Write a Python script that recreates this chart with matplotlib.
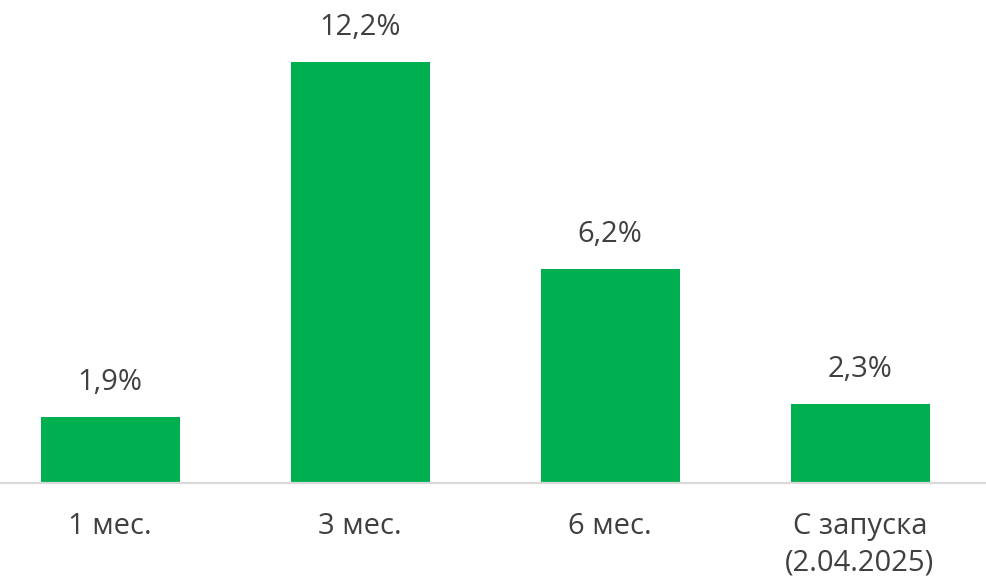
import matplotlib
matplotlib.use('Agg')
import matplotlib.pyplot as plt

categories = ['1 мес.', '3 мес.', '6 мес.', 'С запуска\n(2.04.2025)']
values = [1.9, 12.2, 6.2, 2.3]
value_labels = ['1,9%', '12,2%', '6,2%', '2,3%']

bar_color = '#00AF50'
text_color = '#404040'

plt.rcParams['font.family'] = ['Open Sans', 'DejaVu Sans']

fig = plt.figure(figsize=(9.86, 5.77), dpi=100)
ax = fig.add_axes([0, 1 - 483 / 577, 1, 483 / 577])

x = list(range(len(categories)))
ax.bar(x, values, width=0.556, color=bar_color, zorder=2)

for xi, v, lab in zip(x, values, value_labels):
    ax.annotate(lab, (xi, v), xytext=(0, 19.5), textcoords='offset points',
                ha='center', va='baseline', fontsize=21, color=text_color)

ax.set_xlim(-0.44, 3.504)
ax.set_ylim(0, 14.0)
ax.axhline(0, color='#D9D9D9', linewidth=1.6, zorder=3, clip_on=False)

for s in ax.spines.values():
    s.set_visible(False)
ax.set_yticks([])
ax.set_xticks(x)
ax.set_xticklabels(categories, fontsize=21, color=text_color, linespacing=1.35)
ax.tick_params(axis='x', length=0, pad=21)

fig.savefig('out.png', dpi=100)
